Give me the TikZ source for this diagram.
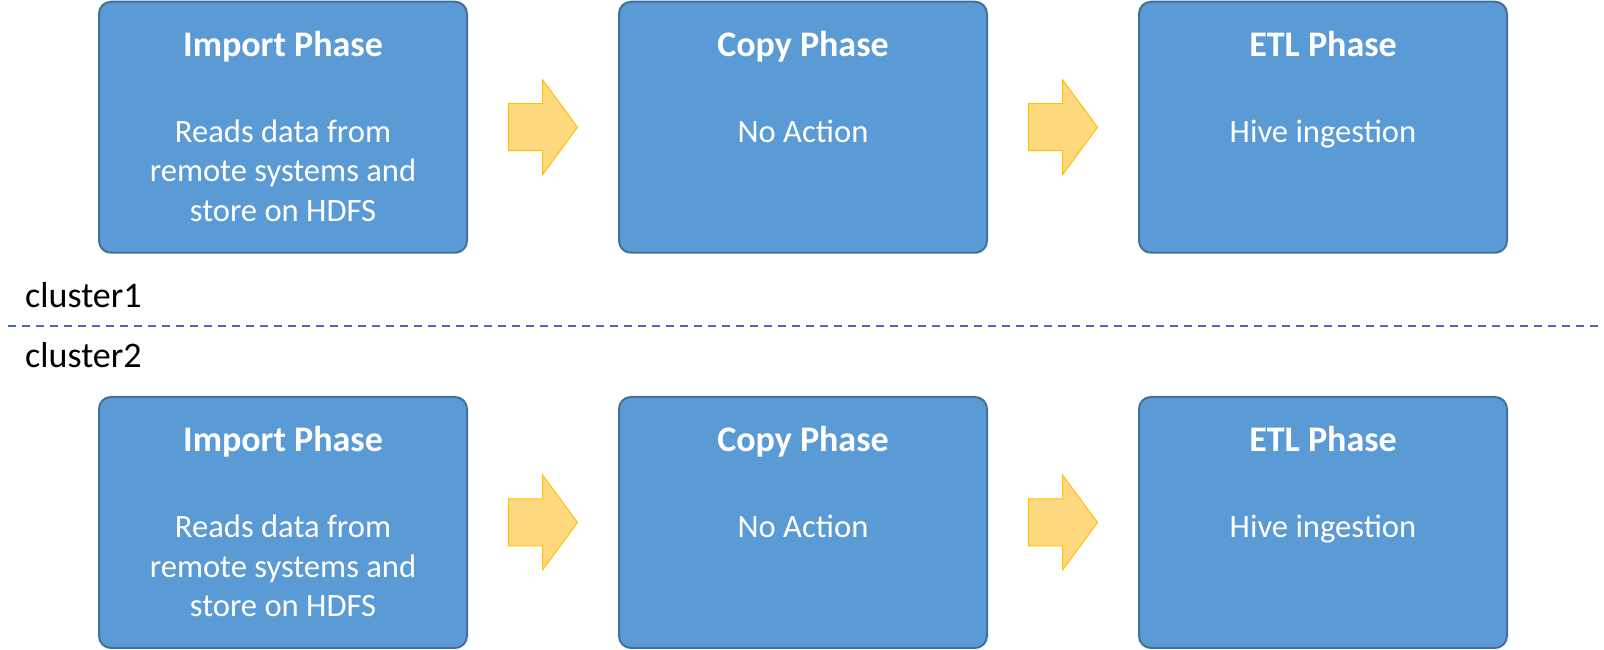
\documentclass[tikz,border=0pt]{standalone}
\usepackage{fontspec}
\setmainfont{Carlito}
\usepackage{tikz}
\usetikzlibrary{calc}
\definecolor{boxfill}{HTML}{5B9BD5}
\definecolor{boxline}{HTML}{41719C}
\definecolor{arrowfill}{HTML}{FFD97F}
\definecolor{arrowline}{HTML}{FFC000}
\definecolor{splitline}{HTML}{4A6BAE}

\tikzset{
  phase/.style={draw=boxline, fill=boxfill, line width=2pt, rounded corners=12pt,
    minimum width=368pt, minimum height=251pt, inner sep=0pt},
  phasetitle/.style={anchor=base, text=white, inner sep=0pt,
    font=\fontsize{36}{43}\selectfont\bfseries},
  phasetext/.style={anchor=base, text=white, inner sep=0pt, align=center,
    font=\fontsize{32.6}{39.3}\selectfont},
  flow/.style={draw=arrowline, fill=arrowfill, line width=1pt, line join=miter},
  clusterlabel/.style={anchor=base west, inner sep=0pt,
    font=\fontsize{36}{43}\selectfont}
}

\begin{document}
\begin{tikzpicture}[x=1pt, y=1pt]
  \useasboundingbox (0,0) rectangle (1604,650);

  % Phases, one row per cluster
  \foreach \row/\yc in {1/522.75, 2/127.5} {
    \node[phase] (imp\row) at (283,\yc) {};
    \node[phase] (cpy\row) at (803,\yc) {};
    \node[phase] (etl\row) at (1323,\yc) {};

    % Titles
    \node[phasetitle] at ([yshift=-55.5pt]imp\row.north) {Import Phase};
    \node[phasetitle] at ([yshift=-55.5pt]cpy\row.north) {Copy Phase};
    \node[phasetitle] at ([yshift=-55.5pt]etl\row.north) {ETL Phase};

    % Descriptions (base = last line)
    \node[phasetext] at ([yshift=-220.5pt]imp\row.north) {Reads data from\\remote systems and\\store on HDFS};
    \node[phasetext] at ([yshift=-141.5pt]cpy\row.north) {No Action};
    \node[phasetext] at ([yshift=-141.5pt]etl\row.north) {Hive ingestion};

    % Block arrows between phases
    \coordinate (go\row a) at ($(imp\row.east)!0.5!(cpy\row.west)$);
    \coordinate (go\row b) at ($(cpy\row.east)!0.5!(etl\row.west)$);
    \foreach \g in {a,b} {
      \draw[flow] ([shift={(-34.5,23.5)}]go\row\g) -- ++(34,0) -- ++(0,24)
        -- ++(35,-47.5) -- ++(-35,-47.5) -- ++(0,24) -- ++(-34,0) -- cycle;
    }
  }

  % Cluster split
  \coordinate (splitL) at (8,324);
  \coordinate (splitR) at (1604,324);
  \draw[splitline, line width=2pt, dash pattern=on 8pt off 6pt] (splitL) -- (splitR);
  \node[clusterlabel] (c1) at (25,342) {cluster1};
  \node[clusterlabel] (c2) at (25,282) {cluster2};
\end{tikzpicture}
\end{document}
